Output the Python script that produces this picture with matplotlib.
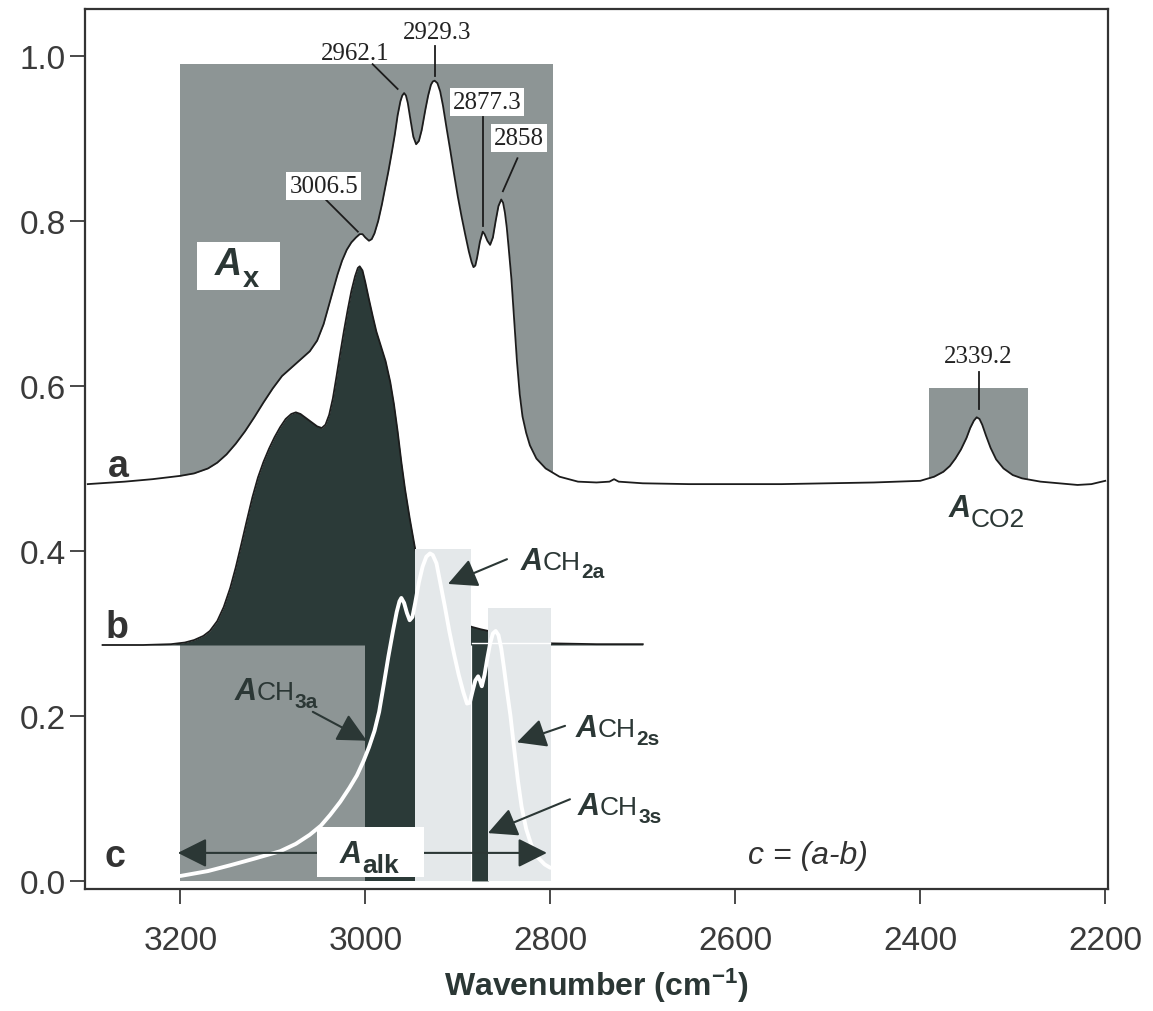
import numpy as np
import matplotlib
matplotlib.use('Agg')
import matplotlib.pyplot as plt
from matplotlib.patches import Rectangle
from matplotlib.textpath import TextPath
from matplotlib.font_manager import FontProperties

# ----------------------------------------------------------------------
# spectra (wavenumber in cm-1, absorbance)
# ----------------------------------------------------------------------

# a : sample spectrum
wn_a = [3300, 3260, 3230, 3200, 3185, 3170, 3160, 3150, 3140, 3130, 3120, 3110,
        3100, 3090, 3080, 3070, 3060, 3052, 3045, 3040, 3035, 3030, 3025, 3020,
        3015, 3010, 3006, 3003, 3000, 2996, 2993, 2990, 2986, 2982, 2978, 2975,
        2971, 2968, 2965, 2962, 2960, 2958, 2956, 2954, 2951, 2948, 2945, 2942,
        2939, 2935, 2932, 2929, 2927, 2925, 2922, 2919, 2916, 2912, 2908, 2904,
        2900, 2896, 2892, 2888, 2885, 2883, 2881, 2879, 2876, 2873, 2871, 2868,
        2865, 2862, 2859, 2856, 2853, 2851, 2849, 2847, 2845, 2842, 2839, 2836,
        2833, 2830, 2826, 2822, 2815, 2805, 2790, 2770, 2750, 2736, 2731, 2726,
        2700, 2650, 2600, 2550, 2500, 2450, 2400, 2385, 2375, 2368, 2362, 2356,
        2350, 2346, 2342, 2339, 2336, 2333, 2329, 2324, 2318, 2310, 2300, 2290,
        2270, 2250, 2230, 2215, 2200]
abs_a = [0.481, 0.484, 0.487, 0.491, 0.494, 0.500, 0.507, 0.517, 0.530, 0.545, 0.562, 0.580,
         0.597, 0.612, 0.622, 0.632, 0.642, 0.655, 0.675, 0.695, 0.715, 0.735, 0.752, 0.765,
         0.774, 0.780, 0.784, 0.784, 0.780, 0.776, 0.778, 0.785, 0.800, 0.820, 0.843, 0.860,
         0.885, 0.905, 0.928, 0.945, 0.952, 0.955, 0.952, 0.943, 0.922, 0.902, 0.893, 0.897,
         0.910, 0.935, 0.952, 0.965, 0.969, 0.970, 0.967, 0.957, 0.940, 0.912, 0.885, 0.857,
         0.830, 0.806, 0.784, 0.763, 0.750, 0.744, 0.746, 0.756, 0.775, 0.787, 0.784, 0.776,
         0.771, 0.780, 0.800, 0.818, 0.826, 0.822, 0.810, 0.792, 0.768, 0.730, 0.680, 0.630,
         0.590, 0.563, 0.543, 0.528, 0.512, 0.500, 0.490, 0.484, 0.483, 0.484, 0.487, 0.484,
         0.482, 0.481, 0.481, 0.481, 0.482, 0.483, 0.485, 0.490, 0.496, 0.503, 0.512, 0.523,
         0.537, 0.549, 0.558, 0.562, 0.560, 0.553, 0.540, 0.525, 0.511, 0.500, 0.492, 0.488,
         0.484, 0.482, 0.480, 0.481, 0.485]

# b : reference spectrum (offset)
wn_b = [3284, 3240, 3210, 3195, 3185, 3175, 3168, 3160, 3153, 3146, 3140, 3134,
        3128, 3122, 3116, 3110, 3104, 3098, 3092, 3086, 3080, 3075, 3070, 3064,
        3058, 3052, 3047, 3043, 3039, 3035, 3031, 3027, 3023, 3019, 3015, 3011,
        3008, 3006, 3003, 3000, 2996, 2992, 2988, 2983, 2978, 2973, 2969, 2965,
        2961, 2957, 2952, 2946, 2935, 2920, 2900, 2885, 2875, 2867, 2850, 2830,
        2800, 2750, 2700]
abs_b = [0.286, 0.286, 0.287, 0.289, 0.292, 0.297, 0.303, 0.315, 0.332, 0.355, 0.380, 0.408,
         0.437, 0.465, 0.489, 0.508, 0.524, 0.538, 0.550, 0.560, 0.566, 0.568, 0.566, 0.561,
         0.556, 0.551, 0.549, 0.553, 0.565, 0.585, 0.612, 0.640, 0.667, 0.692, 0.715, 0.733,
         0.743, 0.745, 0.740, 0.726, 0.705, 0.685, 0.666, 0.648, 0.630, 0.605, 0.578, 0.545,
         0.508, 0.475, 0.440, 0.402, 0.360, 0.330, 0.315, 0.308, 0.305, 0.303, 0.296, 0.290,
         0.288, 0.287, 0.287]
b_base = 0.286

# c = a - b
wn_c = [3200, 3170, 3146, 3120, 3092, 3075, 3060, 3048, 3038, 3027, 3017, 3009,
        3002, 2996, 2990, 2985, 2980, 2975, 2970, 2966, 2963, 2961, 2958, 2955,
        2952, 2949, 2946, 2942, 2938, 2934, 2930, 2927, 2923, 2919, 2914, 2909,
        2904, 2899, 2894, 2890, 2887, 2884, 2881, 2878, 2876, 2874, 2871, 2868,
        2865, 2862, 2859, 2856, 2853, 2850, 2847, 2843, 2839, 2835, 2831, 2826,
        2820, 2813, 2806, 2800]
abs_c = [0.006, 0.012, 0.019, 0.027, 0.036, 0.045, 0.056, 0.067, 0.080, 0.096, 0.113, 0.128,
         0.145, 0.162, 0.182, 0.205, 0.238, 0.272, 0.303, 0.326, 0.339, 0.343, 0.337, 0.325,
         0.316, 0.320, 0.337, 0.362, 0.381, 0.393, 0.397, 0.395, 0.385, 0.362, 0.333, 0.302,
         0.275, 0.250, 0.229, 0.215, 0.216, 0.230, 0.243, 0.248, 0.243, 0.236, 0.250, 0.270,
         0.288, 0.300, 0.303, 0.298, 0.282, 0.258, 0.232, 0.200, 0.160, 0.122, 0.090, 0.063,
         0.042, 0.028, 0.020, 0.016]

# integration windows (cm-1) and box heights
win_x = (3200, 2797)
win_co2 = (2391, 2284)
win_ch3a = (3000, 2946)
win_ch2a = (2946, 2886)
win_ch3s = (2885, 2867)
win_ch2s = (2867, 2799)
top_x, top_co2, top_ch2a, top_ch2s = 0.99, 0.598, 0.402, 0.331

# peak labels: text, label position, leader start, leader end, boxed
peaks = [
    ('2962.1', (3011, 1.004), (2992, 0.990), (2965, 0.960), False),
    ('2929.3', (2922.5, 1.029), (2924.7, 1.012), (2924.7, 0.976), False),
    ('3006.5', (3045, 0.842), (3043.7, 0.827), (3008, 0.787), True),
    ('2877.3', (2868.5, 0.944), (2872.8, 0.926), (2872.8, 0.794), True),
    ('2858', (2834, 0.901), (2835.5, 0.876), (2851.2, 0.836), True),
    ('2339.2', (2337.4, 0.636), (2336.3, 0.617), (2336.3, 0.572), False),
]

GRAY = '#8d9595'
DARK = '#2b3a38'
LIGHT = '#e4e8ea'
TXT = '#2b3735'
LINE = '#1c1c1c'

plt.rcParams['font.family'] = ['Liberation Sans', 'DejaVu Sans']
plt.rcParams['mathtext.fontset'] = 'custom'
plt.rcParams['mathtext.rm'] = 'Liberation Sans'
plt.rcParams['mathtext.bf'] = 'Liberation Sans:bold'
plt.rcParams['mathtext.it'] = 'Liberation Sans:italic'


def area_label(ax, x, y, body, sub, asize=22, bsize=19, ssize=15, drop=6,
               sweight='bold'):
    ax.text(x, y, 'A', fontsize=asize, fontweight='bold', fontstyle='italic',
            ha='right', va='baseline', color=TXT, zorder=10)
    w = 0.0
    if body:
        ax.text(x, y, body, fontsize=bsize, ha='left', va='baseline',
                color=TXT, zorder=10)
        fp = FontProperties(family='Liberation Sans')
        w = TextPath((0, 0), body, size=bsize, prop=fp).get_extents().width + 2
    ax.annotate(sub, (x, y), xytext=(w + 0.5, -drop), textcoords='offset points',
                fontsize=ssize, fontweight=sweight, ha='left', va='baseline',
                color=TXT, zorder=10)


def arrow(ax, tail, tip):
    ax.annotate('', xy=tip, xytext=tail,
                arrowprops=dict(arrowstyle='-|>,head_length=0.9,head_width=0.45',
                                color=TXT, lw=1.5, shrinkA=0, shrinkB=0,
                                mutation_scale=20), zorder=9)


if __name__ == "__main__":

    xa, ya = np.array(wn_a), np.array(abs_a)
    xb, yb = np.array(wn_b), np.array(abs_b)
    xc, yc = np.array(wn_c), np.array(abs_c)

    fig = plt.figure(figsize=(11.53, 10.12), dpi=100)
    ax = fig.add_axes([0.0737, 0.1206, 0.8873, 0.8696])

    # grey windows sitting on spectrum a
    ax.add_patch(Rectangle((win_x[1], 0.45), win_x[0] - win_x[1], top_x - 0.45,
                           color=GRAY, lw=0, zorder=1))
    ax.add_patch(Rectangle((win_co2[1], 0.45), win_co2[0] - win_co2[1], top_co2 - 0.45,
                           color=GRAY, lw=0, zorder=1))
    ax.fill_between(xa, 0.40, ya, color='white', lw=0, zorder=2)

    # CH3a window below b
    ax.add_patch(Rectangle((win_ch3a[0], 0), win_x[0] - win_ch3a[0], b_base + 0.001,
                           color=GRAY, lw=0, zorder=2))

    # spectrum b, filled
    ax.fill_between(xb, b_base, yb, color=DARK, lw=0, zorder=3)
    ax.add_patch(Rectangle((win_ch3a[1], 0), win_ch3a[0] - win_ch3a[1], b_base + 0.003,
                           color=DARK, lw=0, zorder=3))
    m = (xb <= win_ch3s[0]) & (xb >= win_ch3s[1])
    ax.fill_between(xb, 0, yb, where=m, color=DARK, lw=0, zorder=3)
    ax.plot(xb, yb, color=LINE, lw=1.3, zorder=4)

    # light CH2 windows
    ax.add_patch(Rectangle((win_ch2a[1], 0), win_ch2a[0] - win_ch2a[1], top_ch2a,
                           color=LIGHT, lw=0, zorder=5))
    ax.add_patch(Rectangle((win_ch2s[1], 0), win_ch2s[0] - win_ch2s[1], top_ch2s,
                           color=LIGHT, lw=0, zorder=5))
    mb = (xb <= win_ch3s[0]) & (xb >= win_ch2s[1])
    ax.plot(xb[mb], np.full(mb.sum(), b_base + 0.002), color='white', lw=1.0, zorder=5.5)

    # spectrum c (white) and a
    ax.plot(xc, yc, color='white', lw=2.8, zorder=6, solid_capstyle='round',
            solid_joinstyle='round')
    ax.plot(xa, ya, color=LINE, lw=1.3, zorder=6, solid_joinstyle='round')

    # A_alk span
    ax.annotate('', xy=(3202.7, 0.034), xytext=(2803.6, 0.034),
                arrowprops=dict(arrowstyle='<|-|>,head_length=0.9,head_width=0.45',
                                color=TXT, lw=1.5, shrinkA=0, shrinkB=0,
                                mutation_scale=20), zorder=7)
    ax.add_patch(Rectangle((2936.6, 0.005), 3052.3 - 2936.6, 0.06,
                           color='white', lw=0, zorder=8))
    ax.add_patch(Rectangle((3092.3, 0.716), 3182.1 - 3092.3, 0.059,
                           color='white', lw=0, zorder=8))

    area_label(ax, 3133.5, 0.736, '', 'x', asize=27, ssize=21, drop=8.5)
    area_label(ax, 3003.8, 0.023, '', 'alk', asize=22, ssize=19, drop=7)
    area_label(ax, 2346, 0.442, '', 'CO2', asize=22, ssize=19, drop=7,
               sweight='normal')
    area_label(ax, 2808, 0.378, 'CH', '2a')
    area_label(ax, 2748.4, 0.176, 'CH', '2s')
    area_label(ax, 2746.2, 0.081, 'CH', '3s')
    area_label(ax, 3117.3, 0.221, 'CH', '3a')

    arrow(ax, (2846.8, 0.390), (2910.6, 0.360))
    arrow(ax, (3056.7, 0.205), (2998.3, 0.170))
    arrow(ax, (2784, 0.188), (2836, 0.168))
    arrow(ax, (2778.7, 0.099), (2867.4, 0.058))

    # peak labels
    for txt, pos, p0, p1, boxed in peaks:
        bbox = dict(boxstyle='square,pad=0.12', fc='white', ec='none') if boxed else None
        ax.text(pos[0], pos[1], txt, family='Liberation Serif', fontsize=18,
                ha='center', va='center', color='#222222', bbox=bbox, zorder=10)
        ax.plot([p0[0], p1[0]], [p0[1], p1[1]], color=LINE, lw=1.3, zorder=9)

    # curve tags
    for tag, xt, yt in [('a', 3266.5, 0.491), ('b', 3268, 0.296), ('c', 3271, 0.018)]:
        ax.text(xt, yt, tag, fontsize=27, fontweight='bold', ha='center',
                va='baseline', color='#333333', zorder=10)
    ax.text(2521, 0.0315, 'c = (a-b)', fontsize=23, fontstyle='italic',
            ha='center', va='center', color='#333333', zorder=10)

    ax.set_xlim(3303, 2197)
    ax.set_ylim(-0.0097, 1.057)
    ax.set_xticks([3200, 3000, 2800, 2600, 2400, 2200])
    ax.set_yticks([0.0, 0.2, 0.4, 0.6, 0.8, 1.0])
    ax.set_yticklabels(['0.0', '0.2', '0.4', '0.6', '0.8', '1.0'])
    ax.tick_params(axis='x', direction='out', length=11, width=1.3, pad=15,
                   labelsize=24, colors='#3a3a3a')
    ax.tick_params(axis='y', direction='out', length=11, width=1.3, pad=3,
                   labelsize=24, colors='#3a3a3a')
    for s in ax.spines.values():
        s.set_color('#333333')
        s.set_linewidth(1.6)
        s.set_zorder(11)
    ax.set_xlabel(r'Wavenumber (cm$^{\mathbf{-1}}$)', fontsize=23,
                  fontweight='bold', color=TXT, labelpad=7)

    fig.savefig('out.png', dpi=100)
